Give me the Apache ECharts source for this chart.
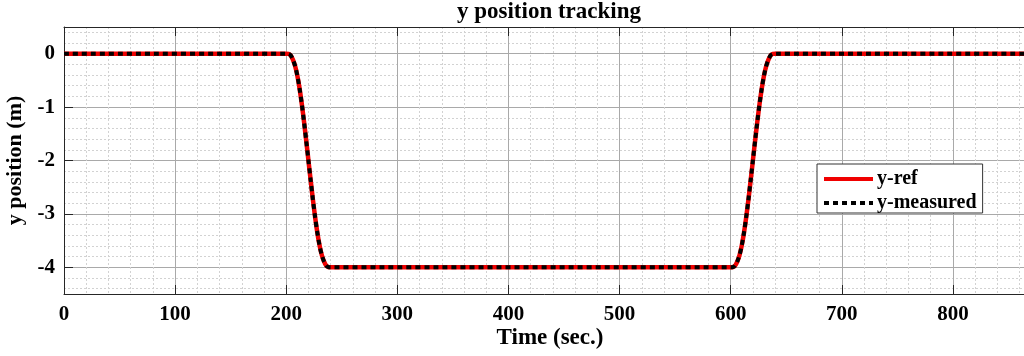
<!DOCTYPE html>
<html>
<head>
<meta charset="utf-8">
<script src="https://cdn.jsdelivr.net/npm/echarts@6/dist/echarts.min.js"></script>
<style>
  html, body { margin: 0; padding: 0; background: #fff; }
  #chart { width: 1024px; height: 356px; }
</style>
</head>
<body>
<div id="chart"></div>
<script>
// Reference trajectory: hold at 0, move down to -4 m, hold, return to 0
const timeRef = [0, 200, 202, 204, 206, 208, 210, 212, 214, 216, 218, 220, 222, 224, 226, 228, 230, 232, 234, 236, 238, 240,
  600, 602, 604, 606, 608, 610, 612, 614, 616, 618, 620, 622, 624, 626, 628, 630, 632, 634, 636, 638, 640, 900];
const yRef = [0, 0, -0.005, -0.03, -0.11, -0.23, -0.41, -0.65, -0.94, -1.27, -1.63, -2, -2.37, -2.73, -3.06, -3.35, -3.59, -3.77, -3.89, -3.97, -3.995, -4,
  -4, -3.995, -3.97, -3.89, -3.77, -3.59, -3.35, -3.06, -2.73, -2.37, -2, -1.63, -1.27, -0.94, -0.65, -0.41, -0.23, -0.11, -0.03, -0.005, 0, 0];

// Measured position
const timeMeas = [0, 200, 202, 204, 206, 208, 210, 212, 214, 216, 218, 220, 222, 224, 226, 228, 230, 232, 234, 236, 238, 240,
  600, 602, 604, 606, 608, 610, 612, 614, 616, 618, 620, 622, 624, 626, 628, 630, 632, 634, 636, 638, 640, 900];
const yMeas = [0, 0, -0.005, -0.03, -0.11, -0.23, -0.41, -0.65, -0.94, -1.27, -1.63, -2, -2.37, -2.73, -3.06, -3.35, -3.59, -3.77, -3.89, -3.97, -3.995, -4,
  -4, -3.995, -3.97, -3.89, -3.77, -3.59, -3.35, -3.06, -2.73, -2.37, -2, -1.63, -1.27, -0.94, -0.65, -0.41, -0.23, -0.11, -0.03, -0.005, 0, 0];

// Axis ticks
const yTicks = [-4, -3, -2, -1, 0];
const yRange = [-4.5, 0.5];
const xRange = [0, 900];
const xStep = 100;
const minorPerMajor = 5;

const seriesNames = ['y-ref', 'y-measured'];

const FONT = '"Liberation Serif", "Times New Roman", serif';
const AXIS_COLOR = '#262626';
const GRID_COLOR = '#a9a9a9';
const MINOR_COLOR = '#d2d2d2';

// minor horizontal grid positions between the integer ticks
const yMinor = [];
for (let v = yRange[0]; v <= yRange[1] + 1e-9; v = Math.round((v + 0.1) * 10) / 10) {
  const tenths = Math.round(v * 10);
  if (tenths % 2 === 0 && tenths % 10 !== 0) yMinor.push(v);
}

const zip = (xs, ys) => xs.map((x, i) => [x, ys[i]]);

const chart = echarts.init(document.getElementById('chart'), null, { renderer: 'canvas' });

chart.setOption({
  backgroundColor: '#ffffff',
  animation: false,
  title: [
    {
      text: 'y position tracking',
      left: 549, top: 1, padding: 0, textAlign: 'center',
      textStyle: { fontFamily: FONT, fontWeight: 'bold', fontSize: 23, color: '#000' }
    },
    {
      text: 'Time (sec.)',
      left: 550, top: 327, padding: 0, textAlign: 'center',
      textStyle: { fontFamily: FONT, fontWeight: 'bold', fontSize: 23, color: '#000' }
    }
  ],
  // the axes box runs past the right edge of the page
  grid: { left: 64, top: 27, bottom: 62, right: -40, containLabel: false, outerBoundsMode: 'none' },
  legend: {
    data: seriesNames,
    orient: 'vertical',
    left: 817, top: 164,
    itemWidth: 49, itemHeight: 14, itemGap: 4,
    padding: [5, 6, 0, 5],
    backgroundColor: '#fff',
    borderColor: '#333', borderWidth: 1, borderRadius: 0,
    itemStyle: { color: 'transparent', borderWidth: 0, opacity: 0 },
    lineStyle: { width: 4 },
    textStyle: { fontFamily: FONT, fontWeight: 'bold', fontSize: 20, color: '#000', lineHeight: 17, padding: [0, 0, 0, -1] }
  },
  xAxis: [
    {
      type: 'value', position: 'bottom',
      min: xRange[0], max: xRange[1], interval: xStep,
      axisLine: { show: true, onZero: false, lineStyle: { color: AXIS_COLOR, width: 1 } },
      axisTick: { show: true, inside: true, length: 9, lineStyle: { color: AXIS_COLOR } },
      minorTick: { show: false, splitNumber: minorPerMajor },
      axisLabel: { show: true, margin: 10, fontFamily: FONT, fontWeight: 'bold', fontSize: 21, color: '#000' },
      splitLine: { show: true, lineStyle: { color: GRID_COLOR, width: 1 } },
      minorSplitLine: { show: true, lineStyle: { color: MINOR_COLOR, width: 1, type: [2, 2] } }
    },
    {
      type: 'value', position: 'top',
      min: xRange[0], max: xRange[1], interval: xStep,
      axisLine: { show: true, onZero: false, lineStyle: { color: AXIS_COLOR, width: 1 } },
      axisTick: { show: true, inside: true, length: 9, lineStyle: { color: AXIS_COLOR } },
      axisLabel: { show: false },
      splitLine: { show: false }
    }
  ],
  yAxis: [
    {
      // dotted minor horizontal grid
      type: 'value', position: 'left',
      min: yRange[0], max: yRange[1],
      axisLine: { show: false },
      axisTick: { show: false, customValues: yMinor },
      axisLabel: { show: false },
      splitLine: { show: true, lineStyle: { color: MINOR_COLOR, width: 1, type: [2, 2] } }
    },
    {
      type: 'value', position: 'left',
      min: yRange[0], max: yRange[1],
      name: 'y position (m)',
      nameLocation: 'middle', nameGap: 33,
      nameTextStyle: { fontFamily: FONT, fontWeight: 'bold', fontSize: 22, color: '#000' },
      axisLine: { show: true, onZero: false, lineStyle: { color: AXIS_COLOR, width: 1 } },
      axisTick: { show: true, inside: true, length: 9, customValues: yTicks, lineStyle: { color: AXIS_COLOR } },
      axisLabel: { show: true, margin: 9, customValues: yTicks, fontFamily: FONT, fontWeight: 'bold', fontSize: 21, color: '#000' },
      splitLine: { show: true, lineStyle: { color: GRID_COLOR, width: 1 } }
    }
  ],
  series: [
    {
      name: seriesNames[0], type: 'line',
      xAxisIndex: 0, yAxisIndex: 1,
      data: zip(timeRef, yRef),
      showSymbol: false, symbol: 'none', smooth: 0.3,
      lineStyle: { color: '#f00000', width: 4.5, cap: 'butt', join: 'round' },
      itemStyle: { color: '#f00000' },
      z: 3
    },
    {
      name: seriesNames[1], type: 'line',
      xAxisIndex: 0, yAxisIndex: 1,
      data: zip(timeMeas, yMeas),
      showSymbol: false, symbol: 'none', smooth: 0.3,
      lineStyle: { color: '#000000', width: 4, type: [5, 4], cap: 'butt', join: 'round' },
      itemStyle: { color: '#000000' },
      z: 4
    }
  ]
});
</script>
</body>
</html>
